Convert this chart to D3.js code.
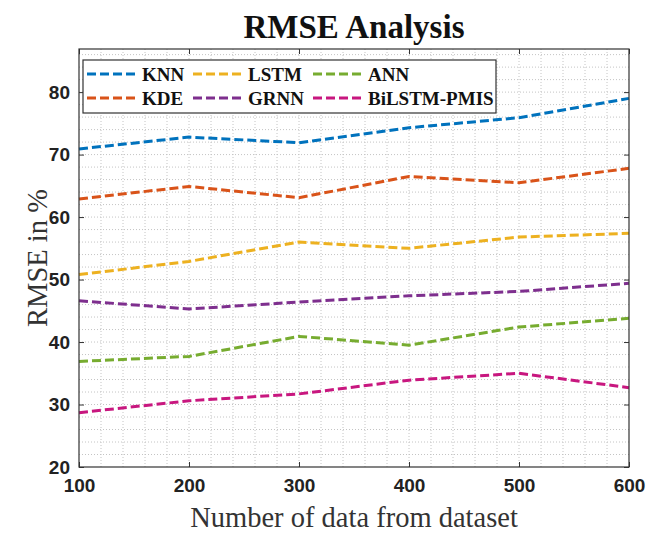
<!DOCTYPE html>
<html>
<head>
<meta charset="utf-8">
<script src="https://cdn.jsdelivr.net/npm/d3@7"></script>
<style>
  body { margin: 0; background: #fff; }
  svg { display: block; }
</style>
</head>
<body>
<div id="chart"></div>
<script>
const xValues = [100, 200, 300, 400, 500, 600];
const seriesNames = ["KNN", "KDE", "LSTM", "GRNN", "ANN", "BiLSTM-PMIS"];
const knn = [70.9, 72.8, 71.9, 74.3, 75.9, 79.0];
const kde = [62.9, 64.9, 63.1, 66.5, 65.5, 67.8];
const lstm = [50.8, 52.9, 56.0, 55.0, 56.8, 57.4];
const grnn = [46.6, 45.3, 46.4, 47.4, 48.1, 49.4];
const ann = [36.9, 37.7, 40.9, 39.5, 42.4, 43.8];
const bilstm = [28.7, 30.6, 31.7, 33.9, 35.0, 32.7];
const yTicks = [20, 30, 40, 50, 60, 70, 80];

const colors = ["#0072BD", "#D95319", "#EDB120", "#7E2F8E", "#77AC30", "#C8177F"];
const series = [knn, kde, lstm, grnn, ann, bilstm];

const W = 647, H = 534;
const margin = {top: 49, right: 18, bottom: 67, left: 79};
const width = W - margin.left - margin.right;
const height = H - margin.top - margin.bottom;
const serif = "'Liberation Serif', 'Times New Roman', serif";

const svg = d3.select("#chart").append("svg")
    .attr("width", W)
    .attr("height", H);

const g = svg.append("g")
    .attr("transform", `translate(${margin.left},${margin.top})`);

const x = d3.scaleLinear().domain([100, 600]).range([0, width]);
const y = d3.scaleLinear().domain([20, 86.9]).range([height, 0]);

// grid (major + minor), dotted
const gridX = d3.range(100, 601, 20);
const gridY = d3.range(20, 87, 2);
g.append("g").selectAll("line").data(gridX.slice(1, -1)).join("line")
    .attr("x1", d => x(d)).attr("x2", d => x(d))
    .attr("y1", 0).attr("y2", height)
    .attr("stroke", "#c4c4c4").attr("stroke-width", 1)
    .attr("stroke-dasharray", "1,2");
g.append("g").selectAll("line").data(gridY.slice(1)).join("line")
    .attr("x1", 0).attr("x2", width)
    .attr("y1", d => y(d)).attr("y2", d => y(d))
    .attr("stroke", "#c4c4c4").attr("stroke-width", 1)
    .attr("stroke-dasharray", "1,2");

// axes
const tickFont = "'Liberation Sans', Arial, sans-serif";
g.append("g")
    .attr("transform", `translate(0,${height})`)
    .call(d3.axisBottom(x).tickValues(xValues).tickSize(-5).tickPadding(12).tickFormat(d3.format("d")))
    .call(a => a.select(".domain").remove())
    .call(a => a.selectAll("text").attr("font-family", tickFont).attr("font-weight", "bold")
        .attr("font-size", 19).attr("fill", "#222"))
    .call(a => a.selectAll("line").attr("stroke", "#333"));
g.append("g")
    .call(d3.axisLeft(y).tickValues(yTicks).tickSize(-5).tickPadding(9))
    .call(a => a.select(".domain").remove())
    .call(a => a.selectAll("text").attr("font-family", tickFont).attr("font-weight", "bold")
        .attr("font-size", 19).attr("fill", "#222"))
    .call(a => a.selectAll("line").attr("stroke", "#333"));
g.append("g")
    .call(d3.axisTop(x).tickValues(xValues).tickSize(-5).tickFormat(""))
    .call(a => a.select(".domain").remove())
    .call(a => a.selectAll("line").attr("stroke", "#333"));
g.append("g")
    .attr("transform", `translate(${width},0)`)
    .call(d3.axisRight(y).tickValues(yTicks).tickSize(-5).tickFormat(""))
    .call(a => a.select(".domain").remove())
    .call(a => a.selectAll("line").attr("stroke", "#333"));

// lines
const line = d3.line()
    .x((d, i) => x(xValues[i]))
    .y(d => y(d));
series.forEach((s, i) => {
    g.append("path")
        .datum(s)
        .attr("fill", "none")
        .attr("stroke", colors[i])
        .attr("stroke-width", 3)
        .attr("stroke-dasharray", "9,4")
        .attr("d", line);
});

// frame
g.append("rect")
    .attr("width", width).attr("height", height)
    .attr("fill", "none").attr("stroke", "#333").attr("stroke-width", 1.2);

// legend
const legend = g.append("g").attr("transform", "translate(4,11)");
legend.append("rect")
    .attr("width", 413).attr("height", 53)
    .attr("fill", "#fff").attr("stroke", "#333").attr("stroke-width", 1.2);
const colX = [4, 110, 230];
const order = [0, 2, 4, 1, 3, 5];
order.forEach((si, k) => {
    const col = k % 3, row = Math.floor(k / 3);
    const lx = colX[col], ly = 14 + row * 24;
    legend.append("line")
        .attr("x1", lx).attr("x2", lx + 50)
        .attr("y1", ly).attr("y2", ly)
        .attr("stroke", colors[si]).attr("stroke-width", 3)
        .attr("stroke-dasharray", "9,4");
    legend.append("text")
        .attr("x", lx + 55).attr("y", ly + 7)
        .attr("font-family", serif)
        .attr("font-weight", "bold").attr("font-size", 19)
        .attr("fill", "#111")
        .text(seriesNames[si]);
});

// title and labels
svg.append("text")
    .attr("x", margin.left + width / 2).attr("y", 38)
    .attr("text-anchor", "middle")
    .attr("font-family", serif)
    .attr("font-weight", "bold").attr("font-size", 33)
    .attr("fill", "#111")
    .text("RMSE Analysis");
svg.append("text")
    .attr("x", margin.left + width / 2).attr("y", 527)
    .attr("text-anchor", "middle")
    .attr("font-family", serif)
    .attr("font-size", 28.5).attr("fill", "#333")
    .text("Number of data from dataset");
svg.append("text")
    .attr("transform", `translate(47,${margin.top + height / 2}) rotate(-90)`)
    .attr("text-anchor", "middle")
    .attr("font-family", serif)
    .attr("font-size", 28.5).attr("fill", "#333")
    .text("RMSE in %");
</script>
</body>
</html>
